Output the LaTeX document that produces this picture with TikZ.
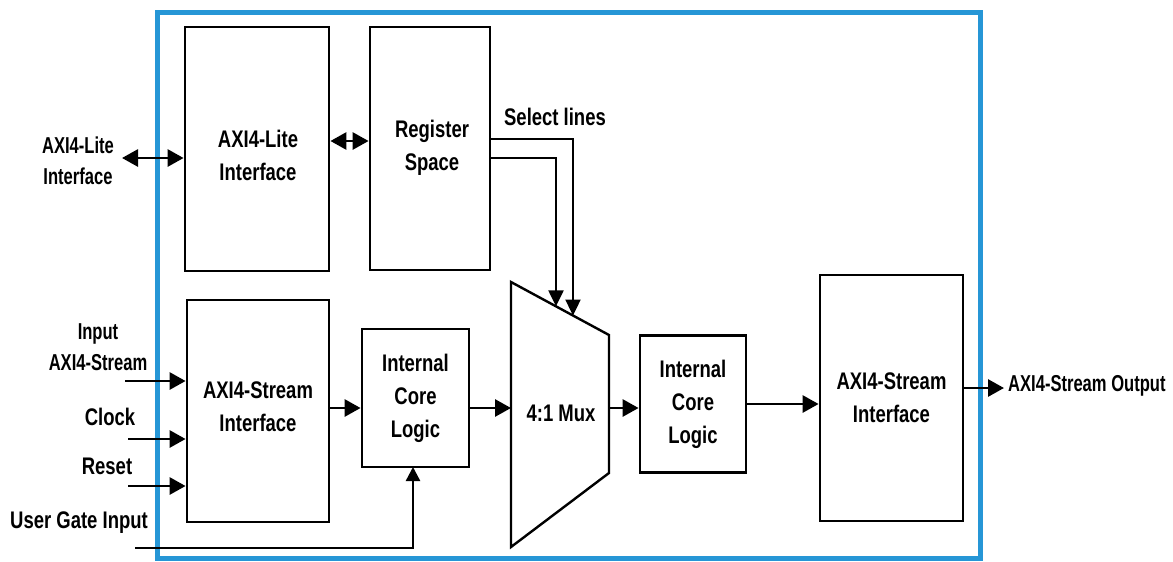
\documentclass[tikz,border=0pt]{standalone}
\usepackage{fontspec}
\setmainfont{Liberation Sans}[FakeStretch=0.77]
\newfontfamily\narrowfont{Liberation Sans}[FakeStretch=0.72]
\usetikzlibrary{arrows.meta}
\definecolor{frameblue}{RGB}{38,150,214}
\begin{document}
\begin{tikzpicture}[x=1pt,y=-1pt,
  blk/.style={draw=black,line width=2.8pt,fill=white,inner sep=0pt,align=center,
     font=\fontsize{24}{33}\selectfont\bfseries},
  lbl/.style={inner sep=0pt,align=center,font=\fontsize{24}{33}\selectfont\bfseries},
  nlbl/.style={inner sep=0pt,align=center,font=\narrowfont\fontsize{23}{31}\selectfont\bfseries},
  conn/.style={line width=2.8pt,-{Triangle[length=16pt,width=17pt]}},
  bconn/.style={line width=2.8pt,{Triangle[length=16pt,width=17pt]}-{Triangle[length=16pt,width=17pt]}},
  wire/.style={line width=2.4pt}]
\useasboundingbox (0,0) rectangle (1173,562);
% outer frame
\draw[frameblue,line width=5pt] (157,12) rectangle (980,558);
% blocks
\node[blk,minimum width=144pt,minimum height=244pt] (lite) at (257,149) {};
\node[lbl] (litet) at (258,155) {AXI4-Lite\\Interface};
\node[blk,minimum width=120pt,minimum height=243pt] (reg) at (430,148.5) {};
\node[lbl] (regt) at (432,148) {Register\\Space};
\node[blk,minimum width=142pt,minimum height=222pt] (sin) at (258,411) {};
\node[lbl] (sint) at (258,407) {AXI4-Stream\\Interface};
\node[blk,minimum width=107pt,minimum height=138pt] (icl1) at (415.5,398) {Internal\\Core\\Logic};
\node[blk,minimum width=106pt,minimum height=137pt] (icl2) at (693,404) {Internal\\Core\\Logic};
\node[blk,minimum width=143pt,minimum height=246pt] (sout) at (891.5,398) {AXI4-Stream\\Interface};
% mux
\coordinate (mtl) at (511,282);
\coordinate (mtr) at (609,335);
\coordinate (mbr) at (609,473);
\coordinate (mbl) at (511,547);
\draw[line width=2.4pt,line join=miter] (mtl) -- (mtr) -- (mbr) -- (mbl) -- cycle;
\node[lbl] (mux) at (561,413) {4:1 Mux};
\coordinate (muxin) at (511,408);
\coordinate (muxout) at (609,408);
\coordinate (sel1) at (573,315.5);
\coordinate (sel2) at (556,306.3);
% labels outside
\node[nlbl] (litelab) at (78,161) {AXI4-Lite\\Interface};
\node[nlbl] (inlab) at (98,347) {Input\\AXI4-Stream};
\node[lbl] (clklab) at (110,417) {Clock};
\node[lbl] (rstlab) at (107,466) {Reset};
\node[lbl] (uglab) at (79,523) {User Gate Input};
\node[nlbl,anchor=west] (outlab) at (1008,386) {AXI4-Stream Output};
\node[lbl] (sellab) at (555,117) {Select lines};
% free ends
\coordinate (litefree) at (122,158);
\coordinate (infree) at (125,381);
\coordinate (clkfree) at (128,439);
\coordinate (rstfree) at (128,486);
\coordinate (ugfree) at (135,548);
\coordinate (outfree) at (1004,388);
% connectors
\draw[bconn] (litefree) -- (litefree -| lite.west);
\draw[bconn] (lite.east |- 0,141) -- (reg.west |- 0,141);
\draw[conn] (infree) -- (infree -| sin.west);
\draw[conn] (clkfree) -- (clkfree -| sin.west);
\draw[conn] (rstfree) -- (rstfree -| sin.west);
\draw[wire,-{Triangle[length=14pt,width=14pt]}] (ugfree) -- (413,548) -- (413,467) ;
\draw[conn] (sin.east |- 0,408) -- (icl1.west |- 0,408);
\draw[conn] (icl1.east |- 0,408) -- (muxin);
\draw[conn] (muxout) -- (icl2.west |- 0,408);
\draw[conn] (icl2.east |- 0,404) -- (sout.west |- 0,404);
\draw[conn] (sout.east |- 0,388) -- (outfree);
\draw[wire,-{Triangle[length=16pt,width=15pt]}] (reg.east |- 0,139) -- (573,139) -- (sel1);
\draw[wire,-{Triangle[length=16pt,width=15pt]}] (reg.east |- 0,158) -- (556,158) -- (sel2);
\end{tikzpicture}
\end{document}
